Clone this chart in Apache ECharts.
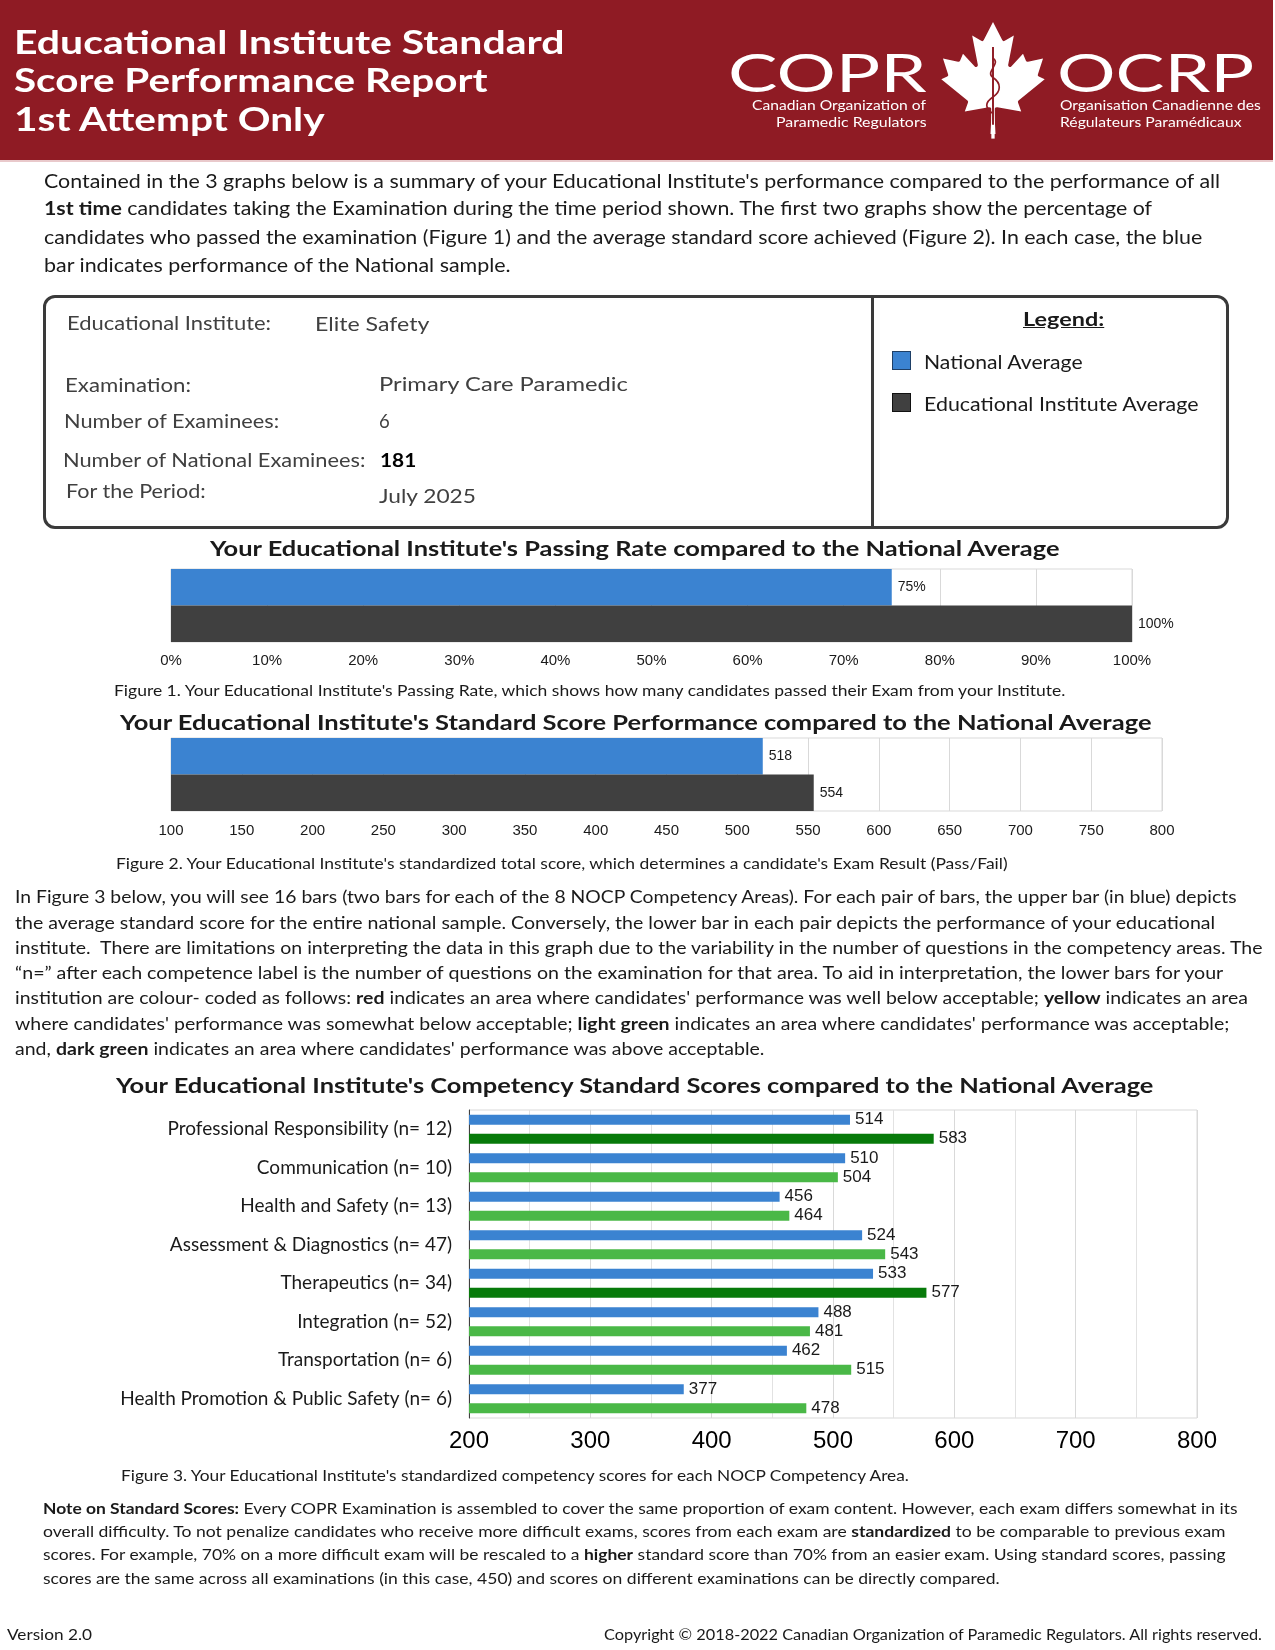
<!DOCTYPE html>
<html><head><meta charset="utf-8">
<script src="https://cdn.jsdelivr.net/npm/echarts@6/dist/echarts.min.js"></script>
<style>
html,body{margin:0;padding:0;background:#fff;}
#page{position:relative;width:1275px;height:1650px;overflow:hidden;font-family:Lato,'Noto Sans',sans-serif;color:#1a1a1a;}
#chart{position:absolute;left:0;top:0;width:1275px;height:1650px;}
.t{position:absolute;white-space:nowrap;transform-origin:0 50%;z-index:5;}
</style></head>
<body><div id="page">
<div style="position:absolute;left:0;top:0;width:1273px;height:160px;background:#8F1B24;"></div>
<div style="position:absolute;left:0;top:160px;width:1273px;height:2px;background:#e9c9cb;"></div>
<svg style="position:absolute;left:937px;top:22px;z-index:4" width="112" height="118" viewBox="-2015 -2000 4030 4250" preserveAspectRatio="none">
<path fill="#fff" d="m-90 2030 45-863a95 95 0 0 0-111-98l-859 151 116-320a65 65 0 0 0-20-73l-941-762 212-99a65 65 0 0 0 34-79l-186-572 542 115a65 65 0 0 0 73-38l105-247 423 454a65 65 0 0 0 111-57l-204-1052 327 189a65 65 0 0 0 91-27l332-652 332 652a65 65 0 0 0 91 27l327-189-204 1052a65 65 0 0 0 111 57l423-454 105 247a65 65 0 0 0 73 38l542-115-186 572a65 65 0 0 0 34 79l212 99-941 762a65 65 0 0 0-20 73l116 320-859-151a95 95 0 0 0-111 98l45 863z"/>
<rect x="-60" y="-1300" width="120" height="3500" fill="#fff"/>
<path d="M0 -1100 L0 1700" stroke="#8F1B24" stroke-width="70" fill="none"/>
<path d="M0 -700 C 300 -500, -300 -200, 0 0 S 300 500, 0 700 S -300 1100, 0 1300" stroke="#8F1B24" stroke-width="60" fill="none"/>
</svg>
<div style="position:absolute;left:43px;top:295px;width:1186px;height:234px;box-sizing:border-box;border:3px solid #3a3a3a;border-radius:12px;"></div>
<div style="position:absolute;left:871px;top:296px;width:3px;height:232px;background:#3a3a3a;"></div>
<div style="position:absolute;left:892px;top:351px;width:17px;height:17px;background:#3B83D1;border:1px solid #1e3f66;"></div>
<div style="position:absolute;left:892px;top:393px;width:17px;height:17px;background:#404040;border:1px solid #111;"></div>
<div id="chart"></div>
</div>
<script>
// ---------- data ----------
const passCats = ['National Average', 'Educational Institute Average'];
const passRate = [75, 100];
const passAxis = {min: 0, max: 100, interval: 10};

const scoreCats = ['National Average', 'Educational Institute Average'];
const totalScore = [518, 554];
const scoreAxis = {min: 100, max: 800, interval: 50};

const compCats = [
  'Professional Responsibility (n= 12)',
  'Communication (n= 10)',
  'Health and Safety (n= 13)',
  'Assessment & Diagnostics (n= 47)',
  'Therapeutics (n= 34)',
  'Integration (n= 52)',
  'Transportation (n= 6)',
  'Health Promotion & Public Safety (n= 6)'
];
const nationalComp = [514, 510, 456, 524, 533, 488, 462, 377];
const instituteComp = [583, 504, 464, 543, 577, 481, 515, 478];
const instituteBand = ['above', 'acceptable', 'acceptable', 'acceptable', 'above', 'acceptable', 'acceptable', 'acceptable'];
const compAxis = {min: 200, max: 800, interval: 100};

// ---------- styles ----------
const BLUE = '#3B83D1', DARK = '#404040';
const bandColor = {above: '#077A0A', acceptable: '#4AB847', somewhat: '#F2D21B', well: '#D9262A'};
const AX = '"Liberation Sans", Arial, sans-serif';

// ---------- text helper ----------
const page = document.getElementById('page');
function T(html, x, y, size, w, o) {
  o = o || {};
  const d = document.createElement('div');
  d.className = 't';
  d.innerHTML = html;
  d.style.fontSize = size + 'px';
  d.style.lineHeight = (size * 1.2) + 'px';
  d.style.top = (y - size * 0.62) + 'px';
  if (o.bold) d.style.fontWeight = 'bold';
  if (o.color) d.style.color = o.color;
  if (o.font) d.style.fontFamily = o.font;
  if (o.deco) d.style.textDecoration = o.deco;
  page.appendChild(d);
  const nat = d.offsetWidth;
  let left = x;
  if (o.align === 'right') left = x - w;
  else if (o.align === 'center') left = x - w / 2;
  d.style.left = left + 'px';
  if (w) d.style.transform = 'scaleX(' + (w / nat) + ')';
}

// header
const W = '#fff';
T('Educational Institute Standard', 14, 42, 33, 551, {bold: 1, color: W});
T('Score Performance Report', 14, 80, 33, 474, {bold: 1, color: W});
T('1st Attempt Only', 14, 119, 33, 310, {bold: 1, color: W});
T('COPR', 728, 73, 52, 198, {color: W});
T('Canadian Organization of', 926, 106, 14, 174, {color: W, align: 'right'});
T('Paramedic Regulators', 926, 123, 14, 150, {color: W, align: 'right'});
T('OCRP', 1057, 73, 52, 197, {color: W});
T('Organisation Canadienne des', 1060, 106, 14, 201, {color: W});
T('Régulateurs Paramédicaux', 1060, 123, 14, 181, {color: W});

// intro paragraph
T("Contained in the 3 graphs below is a summary of your Educational Institute's performance compared to the performance of all", 44, 181, 18.5, 1176);
T("<b>1st time</b> candidates taking the Examination during the time period shown. The first two graphs show the percentage of", 44, 208, 18.5, 1108);
T("candidates who passed the examination (Figure 1) and the average standard score achieved (Figure 2). In each case, the blue", 44, 237, 18.5, 1158);
T("bar indicates performance of the National sample.", 44, 265, 18.5, 467);

// info box
const G = '#404040';
T('Educational Institute:', 67, 323, 18.5, 204, {color: G});
T('Elite Safety', 315, 324, 18.5, 115, {color: G});
T('Examination:', 65, 385, 18.5, 126, {color: G});
T('Primary Care Paramedic', 379, 384, 18.5, 249, {color: G});
T('Number of Examinees:', 64, 421, 18.5, 215, {color: G});
T('6', 379, 421, 18.5, 0, {color: G});
T('Number of National Examinees:', 63, 460, 18.5, 303, {color: G});
T('181', 380, 460, 18.5, 36, {color: '#000', bold: 1});
T('For the Period:', 66, 491, 18.5, 140, {color: G});
T('July 2025', 379, 496, 18.5, 97, {color: G});
T('Legend:', 1063, 319, 18.5, 81, {bold: 1, align: 'center', deco: 'underline'});
T('National Average', 924, 362, 18.5, 159);
T('Educational Institute Average', 924, 404, 18.5, 274);

// chart titles & captions
T("Your Educational Institute's Passing Rate compared to the National Average", 635, 548, 21, 850, {bold: 1, align: 'center'});
T("Figure 1. Your Educational Institute's Passing Rate, which shows how many candidates passed their Exam from your Institute.", 114, 690, 15, 952);
T("Your Educational Institute's Standard Score Performance compared to the National Average", 635, 722, 21, 1031, {bold: 1, align: 'center'});
T("Figure 2. Your Educational Institute's standardized total score, which determines a candidate's Exam Result (Pass/Fail)", 116, 863, 15, 892);

// paragraph 2
T("In Figure 3 below, you will see 16 bars (two bars for each of the 8 NOCP Competency Areas). For each pair of bars, the upper bar (in blue) depicts", 15, 897, 17.5, 1221);
T("the average standard score for the entire national sample. Conversely, the lower bar in each pair depicts the performance of your educational", 15, 923, 17.5, 1200);
T("institute.&nbsp; There are limitations on interpreting the data in this graph due to the variability in the number of questions in the competency areas. The", 15, 948, 17.5, 1248);
T("“n=” after each competence label is the number of questions on the examination for that area. To aid in interpretation, the lower bars for your", 15, 973, 17.5, 1208);
T("institution are colour- coded as follows: <b>red</b> indicates an area where candidates' performance was well below acceptable; <b>yellow</b> indicates an area", 15, 998, 17.5, 1233);
T("where candidates' performance was somewhat below acceptable; <b>light green</b> indicates an area where candidates' performance was acceptable;", 15, 1024, 17.5, 1214);
T("and, <b>dark green</b> indicates an area where candidates' performance was above acceptable.", 15, 1049, 17.5, 750);

T("Your Educational Institute's Competency Standard Scores compared to the National Average", 635, 1085, 21, 1038, {bold: 1, align: 'center'});
T("Figure 3. Your Educational Institute's standardized competency scores for each NOCP Competency Area.", 121, 1475, 15, 788);

// note
T("<b>Note on Standard Scores:</b> Every COPR Examination is assembled to cover the same proportion of exam content. However, each exam differs somewhat in its", 43, 1508, 15, 1194);
T("overall difficulty. To not penalize candidates who receive more difficult exams, scores from each exam are <b>standardized</b> to be comparable to previous exam", 43, 1531, 15, 1182);
T("scores. For example, 70% on a more difficult exam will be rescaled to a <b>higher</b> standard score than 70% from an easier exam. Using standard scores, passing", 43, 1554, 15, 1183);
T("scores are the same across all examinations (in this case, 450) and scores on different examinations can be directly compared.", 43, 1578, 15, 957);

T('Version 2.0', 7, 1634, 16, 85);
T('Copyright © 2018-2022 Canadian Organization of Paramedic Regulators. All rights reserved.', 1262, 1634, 16, 658, {align: 'right'});

// ---------- charts ----------
const chart = echarts.init(document.getElementById('chart'));
const pairColors = [BLUE, DARK];
const gridBorder = {show: true, borderColor: '#D9D9D9', borderWidth: 1, backgroundColor: 'transparent'};
const vAxisCommon = {
  axisLine: {show: false}, axisTick: {show: false},
  splitLine: {show: true, lineStyle: {color: '#D9D9D9', width: 1}}
};
chart.setOption({
  animation: false,
  grid: [
    Object.assign({left: 171, top: 569, width: 961, height: 73}, gridBorder),
    Object.assign({left: 171, top: 738, width: 991, height: 73}, gridBorder),
    Object.assign({left: 469, top: 1110, width: 728, height: 308}, gridBorder)
  ],
  xAxis: [
    Object.assign({gridIndex: 0, type: 'value', min: passAxis.min, max: passAxis.max, interval: passAxis.interval,
      axisLabel: {formatter: '{value}%', fontSize: 15, color: '#1a1a1a', fontFamily: AX, margin: 11}}, vAxisCommon),
    Object.assign({gridIndex: 1, type: 'value', min: scoreAxis.min, max: scoreAxis.max, interval: scoreAxis.interval,
      axisLabel: {fontSize: 15, color: '#1a1a1a', fontFamily: AX, margin: 12}}, vAxisCommon),
    Object.assign({gridIndex: 2, type: 'value', min: compAxis.min, max: compAxis.max, interval: compAxis.interval,
      minorTick: {show: false, splitNumber: 2},
      minorSplitLine: {show: true, lineStyle: {color: '#E2E2E2', width: 1}},
      axisLabel: {fontSize: 24, color: '#000', fontFamily: AX, margin: 11}}, vAxisCommon)
  ],
  yAxis: [
    {gridIndex: 0, type: 'category', inverse: true, data: passCats, axisLabel: {show: false}, axisTick: {show: false}, axisLine: {show: false}},
    {gridIndex: 1, type: 'category', inverse: true, data: scoreCats, axisLabel: {show: false}, axisTick: {show: false}, axisLine: {show: false}},
    {gridIndex: 2, type: 'category', inverse: true, data: compCats, axisTick: {show: false},
      axisLine: {show: true, lineStyle: {color: '#404040', width: 1}},
      axisLabel: {fontSize: 19, color: '#1a1a1a', fontFamily: 'Lato, sans-serif', margin: 17}}
  ],
  series: [
    {type: 'bar', xAxisIndex: 0, yAxisIndex: 0, barCategoryGap: '0%',
      data: passRate.map((v, i) => ({value: v, itemStyle: {color: pairColors[i]}})),
      label: {show: true, position: 'right', distance: 6, formatter: '{c}%', fontSize: 14, color: '#1a1a1a', fontFamily: AX}},
    {type: 'bar', xAxisIndex: 1, yAxisIndex: 1, barCategoryGap: '0%',
      data: totalScore.map((v, i) => ({value: v, itemStyle: {color: pairColors[i]}})),
      label: {show: true, position: 'right', distance: 6, fontSize: 14, color: '#1a1a1a', fontFamily: AX}},
    {type: 'bar', name: 'National Average', xAxisIndex: 2, yAxisIndex: 2, barWidth: 10, barGap: '90%',
      data: nationalComp, itemStyle: {color: BLUE},
      label: {show: true, position: 'right', distance: 5, fontSize: 17, color: '#1a1a1a', fontFamily: AX}},
    {type: 'bar', name: 'Educational Institute Average', xAxisIndex: 2, yAxisIndex: 2, barWidth: 10, barGap: '90%',
      data: instituteComp.map((v, i) => ({value: v, itemStyle: {color: bandColor[instituteBand[i]]}})),
      label: {show: true, position: 'right', distance: 5, fontSize: 17, color: '#1a1a1a', fontFamily: AX}}
  ]
});
</script>
</body></html>
